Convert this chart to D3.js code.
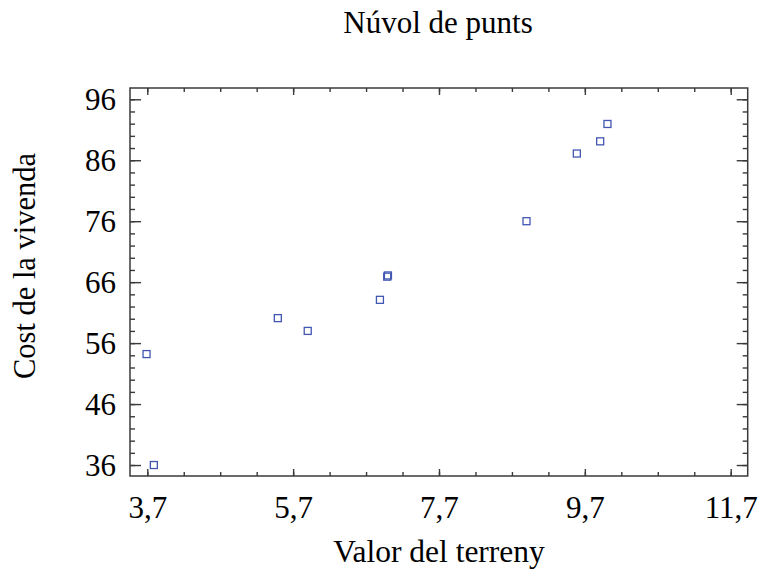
<!DOCTYPE html>
<html>
<head>
<meta charset="utf-8">
<script src="https://cdn.jsdelivr.net/npm/d3@7"></script>
<style>
  html, body { margin: 0; padding: 0; background: #fff; }
  svg { display: block; }
  text { font-family: "Liberation Serif", "Times New Roman", serif; fill: #000; }
</style>
</head>
<body>
<svg id="chart" width="761" height="570"></svg>
<script>
// ---- Data ----
const valorTerreny = [3.69, 3.79, 5.49, 5.90, 6.89, 6.99, 7.00, 8.90, 9.59, 9.91, 10.01];
const costVivenda  = [54.2, 36.0, 60.1, 58.0, 63.1, 66.9, 67.1, 76.0, 87.1, 89.1, 91.95];
const xTickValues = [3.7, 5.7, 7.7, 9.7, 11.7];
const xMinorTicks = [3.7, 4.2, 4.7, 5.2, 5.7, 6.2, 6.7, 7.2, 7.7, 8.2, 8.7, 9.2, 9.7, 10.2, 10.7, 11.2, 11.7];
const yTickValues = [36, 46, 56, 66, 76, 86, 96];
const yMinorTicks = [36, 38, 40, 42, 44, 46, 48, 50, 52, 54, 56, 58, 60, 62, 64, 66, 68, 70, 72, 74, 76, 78, 80, 82, 84, 86, 88, 90, 92, 94, 96];
const titleText = "Núvol de punts";
const xTitle = "Valor del terreny";
const yTitle = "Cost de la vivenda";

// ---- Layout ----
const mLeft = 130, mRight = 747.7, mTop = 88, mBottom = 476;
const svg = d3.select("#chart");
const loc = d3.formatLocale({decimal: ",", thousands: ".", grouping: [3], currency: ["", ""]});
const fx = loc.format(".1f");
const fy = loc.format("d");

const x = d3.scaleLinear().domain([3.463, 11.933]).range([mLeft, mRight]);
const y = d3.scaleLinear().domain([34.2, 97.85]).range([mBottom, mTop]);

const axisColor = "#3a3a3a";

function styleAxis(g) {
  g.select(".domain").remove();
  g.selectAll(".tick line").attr("stroke", axisColor).attr("stroke-width", 1.4);
}

// bottom
svg.append("g").attr("transform", `translate(0,${mBottom})`)
  .call(d3.axisBottom(x).tickValues(xMinorTicks).tickSize(-4).tickFormat(""))
  .call(styleAxis);
svg.append("g").attr("transform", `translate(0,${mBottom})`)
  .call(d3.axisBottom(x).tickValues(xTickValues).tickSize(-7).tickPadding(0).tickFormat(fx))
  .call(styleAxis)
  .call(g => g.selectAll(".tick text")
    .attr("font-size", 31).attr("font-family", "Liberation Serif, serif")
    .attr("fill", "#000").attr("dy", null).attr("y", 42));
// top
svg.append("g").attr("transform", `translate(0,${mTop})`)
  .call(d3.axisTop(x).tickValues(xMinorTicks).tickSize(-4).tickFormat(""))
  .call(styleAxis);
svg.append("g").attr("transform", `translate(0,${mTop})`)
  .call(d3.axisTop(x).tickValues(xTickValues).tickSize(-7).tickFormat(""))
  .call(styleAxis);
// left
svg.append("g").attr("transform", `translate(${mLeft},0)`)
  .call(d3.axisLeft(y).tickValues(yMinorTicks).tickSize(-5).tickFormat(""))
  .call(styleAxis);
svg.append("g").attr("transform", `translate(${mLeft},0)`)
  .call(d3.axisLeft(y).tickValues(yTickValues).tickSize(-11).tickFormat(fy))
  .call(styleAxis)
  .call(g => g.selectAll(".tick text")
    .attr("font-size", 31).attr("font-family", "Liberation Serif, serif")
    .attr("fill", "#000").attr("x", -14).attr("dy", "0.34em"));
// right
svg.append("g").attr("transform", `translate(${mRight},0)`)
  .call(d3.axisRight(y).tickValues(yMinorTicks).tickSize(-5).tickFormat(""))
  .call(styleAxis);
svg.append("g").attr("transform", `translate(${mRight},0)`)
  .call(d3.axisRight(y).tickValues(yTickValues).tickSize(-11).tickFormat(""))
  .call(styleAxis);

// frame
svg.append("rect")
  .attr("x", mLeft).attr("y", mTop)
  .attr("width", mRight - mLeft).attr("height", mBottom - mTop)
  .attr("fill", "none").attr("stroke", axisColor).attr("stroke-width", 1.5);

// points
const pts = d3.range(valorTerreny.length).map(i => ({vx: valorTerreny[i], vy: costVivenda[i]}));
const s = 7;
svg.append("g").selectAll("rect").data(pts).join("rect")
  .attr("x", d => x(d.vx) - s / 2)
  .attr("y", d => y(d.vy) - s / 2)
  .attr("width", s).attr("height", s)
  .attr("fill", "none")
  .attr("stroke", "#4257b2")
  .attr("stroke-width", 1.3);

// titles
svg.append("text").attr("x", 438).attr("y", 33).attr("text-anchor", "middle")
  .attr("font-size", 31).text(titleText);
svg.append("text").attr("x", 439).attr("y", 562).attr("text-anchor", "middle")
  .attr("font-size", 31.5).text(xTitle);
svg.append("text").attr("transform", "translate(35,266) rotate(-90)").attr("text-anchor", "middle")
  .attr("font-size", 30.5).text(yTitle);
</script>
</body>
</html>
